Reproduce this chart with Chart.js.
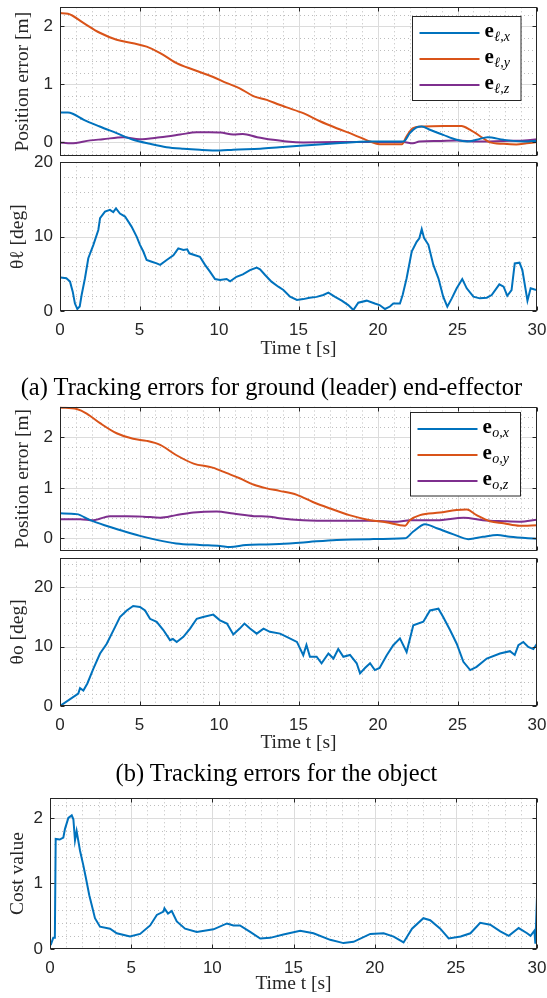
<!DOCTYPE html>
<html><head><meta charset="utf-8">
<script src="https://cdn.jsdelivr.net/npm/chart.js@4.4.1/dist/chart.umd.min.js"></script>
<style>
html,body{margin:0;padding:0;background:#fff;}
#wrap{position:relative;width:547px;height:998px;overflow:hidden;background:#fff;}
canvas{position:absolute;left:0;}
.cap{position:absolute;left:0;width:547px;text-align:center;font-family:"Liberation Serif","Times New Roman",serif;font-size:24.5px;line-height:1;color:#000;white-space:nowrap;}
</style></head><body>
<div id="wrap">
<canvas id="c1" width="547" height="160" style="top:0px"></canvas>
<canvas id="c2" width="547" height="218" style="top:145px"></canvas>
<div class="cap" style="top:375px;left:-2px">(a) Tracking errors for ground (leader) end-effector</div>
<canvas id="c3" width="547" height="160" style="top:395px"></canvas>
<canvas id="c4" width="547" height="212" style="top:545px"></canvas>
<div class="cap" style="top:761px;left:3px">(b) Tracking errors for the object</div>
<canvas id="c5" width="547" height="213" style="top:785px"></canvas>
</div>
<script>
// ---------- tick labels ----------
const xTicks = [0, 5, 10, 15, 20, 25, 30];
const posTicks = [0, 1, 2];
const degTicks = [0, 10, 20];
const costTicks = [0, 1, 2];

// ---------- (a) leader end-effector position errors ----------
const legendA = ['e_ℓ,x', 'e_ℓ,y', 'e_ℓ,z'];
const tLx = [0,0.5,0.8,1.5,2.5,3.56,4.6,5.66,6.7,7.76,8.8,10.06,10.9,12.6,13.8,15.3,17.4,19.5,21.6,22.0,22.4,22.75,23.3,24.1,24.95,25.6,26.2,26.9,27.9,29.2,30];
const eLx = [0.51,0.51,0.49,0.385,0.27,0.155,0.04,-0.03,-0.087,-0.115,-0.133,-0.145,-0.13,-0.115,-0.09,-0.06,-0.02,0.01,0.01,0.155,0.25,0.27,0.21,0.125,0.04,0.01,0.04,0.085,0.04,0.01,0.025];
const tLy = [0,0.5,1.47,2.5,3.56,4.6,5.45,6.3,7.3,8.4,9.6,10.5,11.3,12.2,13.0,13.8,14.26,15.3,16.35,17.4,18.45,19.5,20.1,21.5,21.8,22.2,22.85,24.1,25.26,25.8,26.6,27.0,27.9,28.7,29.35,30];
const eLy = [2.23,2.22,2.06,1.89,1.77,1.71,1.65,1.54,1.37,1.25,1.13,1.02,0.93,0.79,0.73,0.645,0.60,0.50,0.36,0.24,0.13,0.01,-0.035,-0.035,0.1,0.24,0.27,0.28,0.28,0.21,0.07,0.0,-0.03,-0.04,-0.02,0.0];
const tLz = [0,0.7,1.9,2.7,3.98,5.0,6.3,7.55,8.6,9.4,10.1,10.9,11.5,12.4,13.4,14.26,15.3,17.4,19.5,21.6,22.2,22.6,23.8,24.95,26.2,27.9,29.2,30];
const eLz = [-0.005,-0.02,0.03,0.05,0.085,0.05,0.085,0.13,0.17,0.17,0.165,0.13,0.14,0.085,0.04,0.01,-0.005,0,0,0,-0.02,0.01,0.02,0.03,0.01,0.02,0.03,0.05];

// ---------- (a) theta_l ----------
const tThL = [0.04,0.4,0.63,0.8,0.94,1.09,1.24,1.36,1.57,1.78,2.1,2.41,2.52,2.83,3.14,3.35,3.52,3.77,4.09,4.5,4.82,5.03,5.24,5.45,5.77,6.08,6.3,6.71,7.13,7.44,7.76,8.0,8.13,8.5,8.8,9.12,9.43,9.75,10.06,10.48,10.7,11.1,11.5,11.95,12.37,12.58,12.9,13.3,13.73,14.05,14.47,14.9,15.3,15.7,16.14,16.56,16.88,17.3,17.72,18.13,18.45,18.76,19.29,19.8,20.1,20.44,20.75,20.96,21.38,21.55,21.8,22.12,22.43,22.6,22.75,22.9,23.17,23.48,23.8,24.1,24.36,24.64,24.95,25.3,25.58,26.0,26.4,26.84,27.15,27.63,27.9,28.13,28.4,28.6,28.9,29.08,29.4,29.6,29.85,30];
const thL = [4.5,4.4,3.95,2.6,1.0,0.27,0.6,2.15,4.4,7.1,8.9,10.9,12.5,13.36,13.6,13.3,13.8,13.1,12.7,11.35,10.0,8.9,8.0,6.86,6.63,6.4,6.2,6.86,7.5,8.43,8.2,8.3,7.76,7.5,7.3,6.2,5.3,4.3,4.17,4.3,4.0,4.6,4.93,5.5,5.83,5.6,4.84,3.95,3.27,2.82,1.92,1.48,1.6,1.79,1.9,2.15,2.46,1.9,1.39,0.8,0.13,1.12,1.39,1.0,0.8,0.27,0.6,1.0,1.0,2.15,4.4,8.0,9.3,9.77,11.0,9.8,8.9,6.2,4.4,1.92,0.58,1.7,3.05,4.3,3.05,1.92,1.7,1.79,2.15,3.58,3.27,2.05,2.82,6.4,6.5,5.5,1.39,3.05,2.9,2.82];

// ---------- (b) object position errors ----------
const legendB = ['e_o,x', 'e_o,y', 'e_o,z'];
const tOx = [0,1.05,1.9,2.9,3.98,5.03,6.08,7.3,8.8,10.06,10.7,11.7,13.0,13.8,15.3,17.4,19.5,21.7,22.2,22.96,23.7,24.75,25.68,26.6,27.5,28.3,30];
const eOx = [0.495,0.48,0.36,0.25,0.145,0.05,-0.03,-0.1,-0.13,-0.15,-0.17,-0.13,-0.12,-0.11,-0.08,-0.03,-0.015,0,0.13,0.28,0.2,0.08,-0.015,0.03,0.065,0.03,-0.01];
const tOy = [0,1.05,1.68,2.52,3.56,4.6,5.45,6.3,7.3,8.4,9.6,10.5,11.3,12.2,13.0,13.8,14.9,15.9,17.0,18.2,19.5,20.5,21.7,22.0,22.64,23.9,24.95,25.58,26.2,27.04,27.9,28.9,30];
const eOy = [2.59,2.56,2.47,2.28,2.08,1.97,1.93,1.85,1.65,1.48,1.40,1.29,1.19,1.06,0.99,0.94,0.86,0.72,0.59,0.46,0.36,0.32,0.25,0.36,0.46,0.51,0.56,0.57,0.46,0.34,0.30,0.25,0.26];
const tOz = [0,1.26,2.1,3.14,4.2,5.24,6.3,7.3,8.4,9.85,10.9,12.2,13.2,13.8,15.3,17.4,19.5,21.2,22.0,23.7,25.4,26.6,27.9,28.9,30];
const eOz = [0.38,0.38,0.36,0.44,0.44,0.43,0.41,0.46,0.51,0.53,0.49,0.44,0.43,0.40,0.36,0.35,0.35,0.33,0.36,0.36,0.41,0.36,0.34,0.33,0.37];

// ---------- (b) theta_o ----------
const tThO = [0,1.15,1.26,1.47,1.72,2.1,2.52,2.94,3.46,3.77,4.2,4.6,5.03,5.35,5.66,6.08,6.5,6.92,7.1,7.34,7.76,8.18,8.6,9.0,9.64,10.06,10.5,10.9,11.3,11.6,11.95,12.37,12.8,13.2,13.84,14.26,14.9,15.3,15.5,15.72,16.14,16.45,16.88,17.2,17.5,17.82,18.24,18.66,18.87,19.18,19.5,19.8,20.1,20.55,20.96,21.38,21.8,22.22,22.85,23.27,23.8,24.1,24.53,24.95,25.37,25.8,26.2,26.84,27.67,28.3,28.6,28.83,29.14,29.45,29.77,30];
const thO = [0,2.1,3.0,2.6,3.8,6.3,8.85,10.5,13.3,15.0,16.1,16.86,16.7,16.1,14.7,14.2,12.8,11.1,11.3,10.8,11.65,13.05,14.7,15.0,15.4,14.45,13.9,12.05,13.05,13.9,13.05,12.2,13.05,12.5,12.2,11.65,10.8,8.57,10.3,8.3,8.3,7.2,8.85,8.0,9.6,8.3,8.6,7.2,5.5,6.4,7.2,6.05,6.4,8.57,10.25,11.4,9.1,13.6,14.2,16.1,16.4,15.0,12.8,10.5,7.45,6.05,6.6,8.0,8.85,9.24,8.6,10.25,10.8,9.97,9.6,10.5];

// ---------- cost ----------
const tCost = [0.04,0.2,0.3,0.35,0.6,0.82,0.92,1.13,1.34,1.44,1.54,1.64,1.85,2.05,2.2,2.42,2.57,2.77,3.08,3.7,4.11,4.93,5.55,6.17,6.58,6.99,7.05,7.27,7.5,7.81,8.32,9.04,10.07,10.9,11.3,11.7,12.33,12.95,13.56,14.38,15.41,16.23,17.26,18.08,18.7,19.73,20.55,21.17,21.78,22.3,23.0,23.42,24.04,24.56,25.3,25.9,26.5,27.12,27.74,28.26,28.87,29.39,29.6,29.84,29.9,30];
const cost = [0.06,0.17,0.17,1.68,1.67,1.7,1.83,2.0,2.04,1.98,1.66,1.8,1.5,1.28,1.1,0.82,0.67,0.47,0.34,0.31,0.24,0.19,0.23,0.36,0.52,0.57,0.62,0.54,0.58,0.42,0.31,0.26,0.30,0.39,0.36,0.36,0.26,0.16,0.17,0.22,0.28,0.24,0.14,0.09,0.11,0.23,0.24,0.19,0.10,0.31,0.47,0.44,0.31,0.16,0.19,0.24,0.40,0.37,0.27,0.2,0.32,0.24,0.2,0.28,0.08,0.8];

// ---------- styling ----------
const BLUE = '#0072BD', ORANGE = '#D95319', PURPLE = '#7E2F8E';
const AX = '#262626';
Chart.defaults.font.family = '"Liberation Sans", Arial, sans-serif';

const matlab = {
  id: 'matlab',
  beforeDatasetsDraw(chart, args, o) {
    const {ctx, chartArea: a, scales: {x, y}} = chart;
    ctx.save();
    ctx.beginPath(); ctx.rect(a.left, a.top, a.right - a.left, a.bottom - a.top); ctx.clip();
    ctx.lineWidth = 1;
    const isMaj = (v, arr) => arr.some(m => Math.abs(m - v) < 1e-6);
    ctx.strokeStyle = '#bdbdbd'; ctx.setLineDash([1, 3]);
    for (let k = Math.ceil(x.min / o.xMinor); k * o.xMinor <= x.max + 1e-9; k++) {
      const v = k * o.xMinor; if (isMaj(v, o.xMajor)) continue;
      const p = Math.round(x.getPixelForValue(v)) + 0.5;
      ctx.beginPath(); ctx.moveTo(p, a.top); ctx.lineTo(p, a.bottom); ctx.stroke();
    }
    for (let k = Math.ceil(y.min / o.yMinor - 1e-9); k * o.yMinor <= y.max + 1e-9; k++) {
      const v = k * o.yMinor; if (isMaj(v, o.yMajor)) continue;
      const p = Math.round(y.getPixelForValue(v)) + 0.5;
      ctx.beginPath(); ctx.moveTo(a.left, p); ctx.lineTo(a.right, p); ctx.stroke();
    }
    ctx.setLineDash([]); ctx.strokeStyle = '#dcdcdc';
    o.xMajor.forEach(v => { const p = Math.round(x.getPixelForValue(v)) + 0.5;
      ctx.beginPath(); ctx.moveTo(p, a.top); ctx.lineTo(p, a.bottom); ctx.stroke(); });
    o.yMajor.forEach(v => { const p = Math.round(y.getPixelForValue(v)) + 0.5;
      ctx.beginPath(); ctx.moveTo(a.left, p); ctx.lineTo(a.right, p); ctx.stroke(); });
    ctx.restore();
  },
  afterDatasetsDraw(chart, args, o) {
    const {ctx, chartArea: a, scales: {x, y}} = chart;
    ctx.save();
    ctx.strokeStyle = AX; ctx.lineWidth = 1; ctx.setLineDash([]);
    const L = Math.round(a.left) + 0.5, R = Math.round(a.right) - 0.5, T = Math.round(a.top) + 0.5, B = Math.round(a.bottom) - 0.5;
    ctx.strokeRect(L, T, R - L, B - T);
    const tl = 4;
    o.xMajor.forEach(v => { const p = Math.round(x.getPixelForValue(v)) + 0.5;
      ctx.beginPath(); ctx.moveTo(p, B); ctx.lineTo(p, B - tl); ctx.moveTo(p, T); ctx.lineTo(p, T + tl); ctx.stroke(); });
    o.yMajor.forEach(v => { const p = Math.round(y.getPixelForValue(v)) + 0.5;
      ctx.beginPath(); ctx.moveTo(L, p); ctx.lineTo(L + tl, p); ctx.moveTo(R, p); ctx.lineTo(R - tl, p); ctx.stroke(); });
    if (o.legend) {
      const lg = o.legend;
      const bx = Math.round(a.right - lg.right - lg.w) + 0.5, by = Math.round(a.top + lg.top) + 0.5;
      ctx.fillStyle = '#fff'; ctx.fillRect(bx, by, lg.w, lg.h);
      ctx.strokeStyle = AX; ctx.strokeRect(bx, by, lg.w, lg.h);
      chart.data.datasets.forEach((ds, i) => {
        const ry = by + 16.5 + 26 * i;
        ctx.strokeStyle = ds.borderColor; ctx.lineWidth = 2;
        ctx.beginPath(); ctx.moveTo(bx + 7, ry); ctx.lineTo(bx + 67, ry); ctx.stroke();
        const [main, sub] = ds.label.split('_');
        ctx.fillStyle = '#000'; ctx.textBaseline = 'alphabetic'; ctx.textAlign = 'left';
        ctx.font = 'bold 21px "Liberation Serif", serif';
        ctx.fillText(main, bx + 72, ry + 4);
        const w = ctx.measureText(main).width;
        ctx.font = 'italic 14px "Liberation Serif", serif';
        ctx.fillText(sub, bx + 72 + w + 0.5, ry + 8);
      });
    }
    ctx.restore();
  }
};

function build(id, o) {
  const tickFont = {family: '"Liberation Sans", Arial, sans-serif', size: 17};
  const titleFont = {family: '"Liberation Serif", "Times New Roman", serif', size: 19.5};
  new Chart(document.getElementById(id), {
    type: 'line',
    data: { datasets: o.series.map(s => ({
      label: s.label,
      data: s.t.map((t, i) => ({x: t, y: s.v[i]})),
      borderColor: s.color, backgroundColor: s.color,
      borderWidth: 2, pointRadius: 0, fill: false,
      cubicInterpolationMode: s.smooth ? 'monotone' : 'default', tension: 0
    })) },
    options: {
      responsive: false, animation: false, devicePixelRatio: 1,
      layout: { padding: { top: o.padTop, right: 10, bottom: 0, left: 0 } },
      plugins: {
        legend: { display: false }, tooltip: { enabled: false },
        matlab: { xMajor: xTicks, xMinor: 1, yMajor: o.yTicks, yMinor: o.yMinor, legend: o.legend }
      },
      scales: {
        x: {
          type: 'linear', min: 0, max: 30,
          afterBuildTicks: s => { s.ticks = xTicks.map(v => ({value: v})); },
          afterFit: s => { s.height = o.xH; s.paddingLeft = 0; s.paddingRight = 0; s.paddingTop = 0; s.paddingBottom = 0; },
          grid: { display: false, drawTicks: false }, border: { display: false },
          ticks: { display: o.xLabels, padding: 9, font: tickFont, color: AX, maxRotation: 0, autoSkip: false },
          title: { display: o.xLabels, text: 'Time t [s]', font: titleFont, color: AX, padding: { top: 0, bottom: 2 } }
        },
        y: {
          type: 'linear', min: o.yMin, max: o.yMax,
          afterBuildTicks: s => { s.ticks = o.yTicks.map(v => ({value: v})); },
          afterFit: s => { s.width = o.yW; s.paddingLeft = 0; s.paddingRight = 0; s.paddingTop = 0; s.paddingBottom = 0; },
          grid: { display: false, drawTicks: false }, border: { display: false },
          ticks: { padding: 7, font: tickFont, color: AX, autoSkip: false },
          title: { display: true, text: o.yTitle, font: titleFont, color: AX, padding: { top: o.yTitlePad, bottom: 0 } }
        }
      }
    },
    plugins: [matlab]
  });
}

build('c1', {
  series: [
    {label: legendA[0], t: tLx, v: eLx, color: BLUE, smooth: true},
    {label: legendA[1], t: tLy, v: eLy, color: ORANGE, smooth: true},
    {label: legendA[2], t: tLz, v: eLz, color: PURPLE, smooth: true}
  ],
  padTop: 7.3, xH: 4, xLabels: false, yW: 60,
  yMin: -0.24, yMax: 2.33, yTicks: posTicks, yMinor: 0.2,
  yTitle: 'Position error [m]', yTitlePad: 11,
  legend: {right: 17, top: 8.7, w: 108.5, h: 84}
});
build('c2', {
  series: [{label: 'θℓ', t: tThL, v: thL, color: BLUE, smooth: false}],
  padTop: 17.3, xH: 52, xLabels: true, yW: 60,
  yMin: 0, yMax: 20, yTicks: degTicks, yMinor: 2,
  yTitle: 'θℓ [deg]', yTitlePad: 6.5
});
build('c3', {
  series: [
    {label: legendB[0], t: tOx, v: eOx, color: BLUE, smooth: true},
    {label: legendB[1], t: tOy, v: eOy, color: ORANGE, smooth: true},
    {label: legendB[2], t: tOz, v: eOz, color: PURPLE, smooth: true}
  ],
  padTop: 11.5, xH: 4, xLabels: false, yW: 60,
  yMin: -0.25, yMax: 2.61, yTicks: posTicks, yMinor: 0.2,
  yTitle: 'Position error [m]', yTitlePad: 11,
  legend: {right: 17.5, top: 5.2, w: 110, h: 83.5}
});
build('c4', {
  series: [{label: 'θo', t: tThO, v: thO, color: BLUE, smooth: false}],
  padTop: 12.7, xH: 51, xLabels: true, yW: 60,
  yMin: 0, yMax: 25, yTicks: degTicks, yMinor: 2,
  yTitle: 'θo [deg]', yTitlePad: 6.5
});
build('c5', {
  series: [{label: 'Cost', t: tCost, v: cost, color: BLUE, smooth: false}],
  padTop: 13.3, xH: 49, xLabels: true, yW: 50,
  yMin: 0, yMax: 2.3, yTicks: costTicks, yMinor: 0.2,
  yTitle: 'Cost value', yTitlePad: 6
});
</script>
</body></html>
